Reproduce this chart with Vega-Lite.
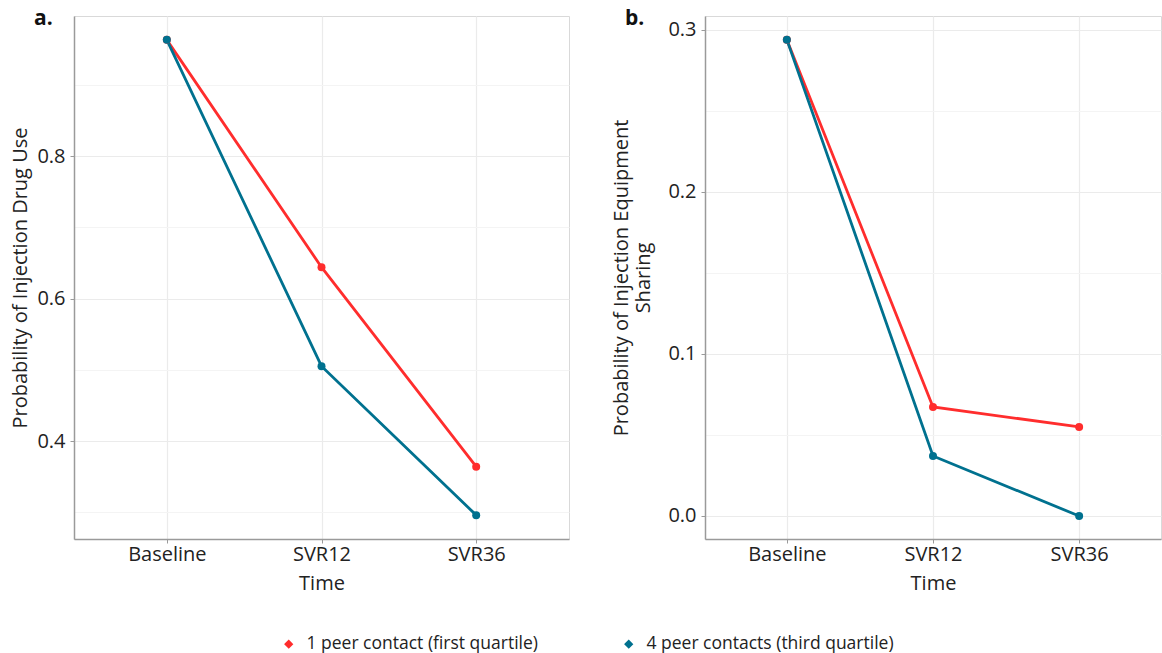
{
  "$schema": "https://vega.github.io/schema/vega-lite/v6.json",
  "padding": {"left": 10, "top": 7, "right": 0, "bottom": 0},
  "background": "white",
  "datasets": {
    "a": [
      {"time": "Baseline", "group": "1 peer contact (first quartile)", "prob": 0.963},
      {"time": "SVR12", "group": "1 peer contact (first quartile)", "prob": 0.644},
      {"time": "SVR36", "group": "1 peer contact (first quartile)", "prob": 0.364},
      {"time": "Baseline", "group": "4 peer contacts (third quartile)", "prob": 0.963},
      {"time": "SVR12", "group": "4 peer contacts (third quartile)", "prob": 0.505},
      {"time": "SVR36", "group": "4 peer contacts (third quartile)", "prob": 0.296}
    ],
    "b": [
      {"time": "Baseline", "group": "1 peer contact (first quartile)", "prob": 0.294},
      {"time": "SVR12", "group": "1 peer contact (first quartile)", "prob": 0.0673},
      {"time": "SVR36", "group": "1 peer contact (first quartile)", "prob": 0.055},
      {"time": "Baseline", "group": "4 peer contacts (third quartile)", "prob": 0.294},
      {"time": "SVR12", "group": "4 peer contacts (third quartile)", "prob": 0.037},
      {"time": "SVR36", "group": "4 peer contacts (third quartile)", "prob": 0.0}
    ]
  },
  "spacing": 41,
  "hconcat": [
    {
      "width": 495,
      "height": 523,
      "title": {"text": "a.", "anchor": "start", "frame": "group", "dx": -40, "offset": -13, "fontSize": 21, "fontWeight": "bold", "font": "Open Sans", "color": "#111"},
      "data": {"name": "a"},
      "encoding": {
        "x": {"field": "time", "type": "nominal", "sort": ["Baseline", "SVR12", "SVR36"], "scale": {"type": "point", "padding": 0.6}, "title": "Time"},
        "y": {"field": "prob", "type": "quantitative", "scale": {"domain": [0.2625, 0.9965], "nice": false, "zero": false},
              "axis": {"values": [0.3, 0.4, 0.5, 0.6, 0.7, 0.8, 0.9],
                       "labelExpr": "round(datum.value*10) % 2 == 0 ? format(datum.value, '.1f') : ''",
                       "tickOpacity": {"condition": {"test": "round(datum.value*10) % 2 == 0", "value": 1}, "value": 0},
                       "gridColor": {"condition": {"test": "round(datum.value*10) % 2 == 0", "value": "#ebebeb"}, "value": "#f4f4f4"}},
              "title": "Probability of Injection Drug Use"},
        "color": {"field": "group", "type": "nominal", "scale": {"range": ["#ff2d2d", "#00718f"]},
                  "legend": {"orient": "none", "legendX": 206, "legendY": 619, "direction": "horizontal", "title": null, "symbolType": "diamond", "symbolSize": 50,
                             "labelFontSize": 17.5, "labelFont": "Open Sans", "labelColor": "#222", "labelLimit": 400, "labelOffset": 9, "columnPadding": 82}}
      },
      "layer": [
        {"mark": {"type": "line", "strokeWidth": 2.8}},
        {"mark": {"type": "point", "filled": true, "size": 64, "opacity": 1}}
      ]
    },
    {
      "width": 456,
      "height": 523,
      "title": {"text": "b.", "anchor": "start", "frame": "group", "dx": -80, "offset": -13, "fontSize": 21, "fontWeight": "bold", "font": "Open Sans", "color": "#111"},
      "data": {"name": "b"},
      "encoding": {
        "x": {"field": "time", "type": "nominal", "sort": ["Baseline", "SVR12", "SVR36"], "scale": {"type": "point", "padding": 0.56}, "title": "Time"},
        "y": {"field": "prob", "type": "quantitative", "scale": {"domain": [-0.0142, 0.3086], "nice": false, "zero": false},
              "axis": {"values": [0.0, 0.05, 0.1, 0.15, 0.2, 0.25, 0.3],
                       "labelExpr": "round(datum.value*20) % 2 == 0 ? format(datum.value, '.1f') : ''",
                       "tickOpacity": {"condition": {"test": "round(datum.value*20) % 2 == 0", "value": 1}, "value": 0},
                       "gridColor": {"condition": {"test": "round(datum.value*20) % 2 == 0", "value": "#ebebeb"}, "value": "#f4f4f4"},
                       "titlePadding": 14},
              "title": ["Probability of Injection Equipment", "Sharing"]},
        "color": {"field": "group", "type": "nominal", "scale": {"range": ["#ff2d2d", "#00718f"]},
                  "legend": {"orient": "none", "legendX": 206, "legendY": 619, "direction": "horizontal", "title": null, "symbolType": "diamond", "symbolSize": 50,
                             "labelFontSize": 17.5, "labelFont": "Open Sans", "labelColor": "#222", "labelLimit": 400, "labelOffset": 9, "columnPadding": 82}}
      },
      "layer": [
        {"mark": {"type": "line", "strokeWidth": 2.8}},
        {"mark": {"type": "point", "filled": true, "size": 64, "opacity": 1}}
      ]
    }
  ],
  "resolve": {"scale": {"color": "shared"}},
  "config": {
    "font": "Open Sans",
    "view": {"stroke": "#d9d9d9", "strokeWidth": 1},
    "axis": {
      "labelFont": "Open Sans", "labelFontSize": 20, "labelColor": "#222",
      "titleFont": "Open Sans", "titleFontSize": 20, "titleFontWeight": "normal", "titleColor": "#222",
      "domainColor": "#9a9a9a", "domainWidth": 1.5, "tickColor": "#9a9a9a", "tickSize": 4,
      "gridWidth": 1.2
    },
    "axisX": {"grid": true, "labelAngle": 0, "labelPadding": 1, "titlePadding": 9, "gridColor": "#ebebeb"},
    "axisY": {"titlePadding": 6, "labelPadding": 5}
  }
}
